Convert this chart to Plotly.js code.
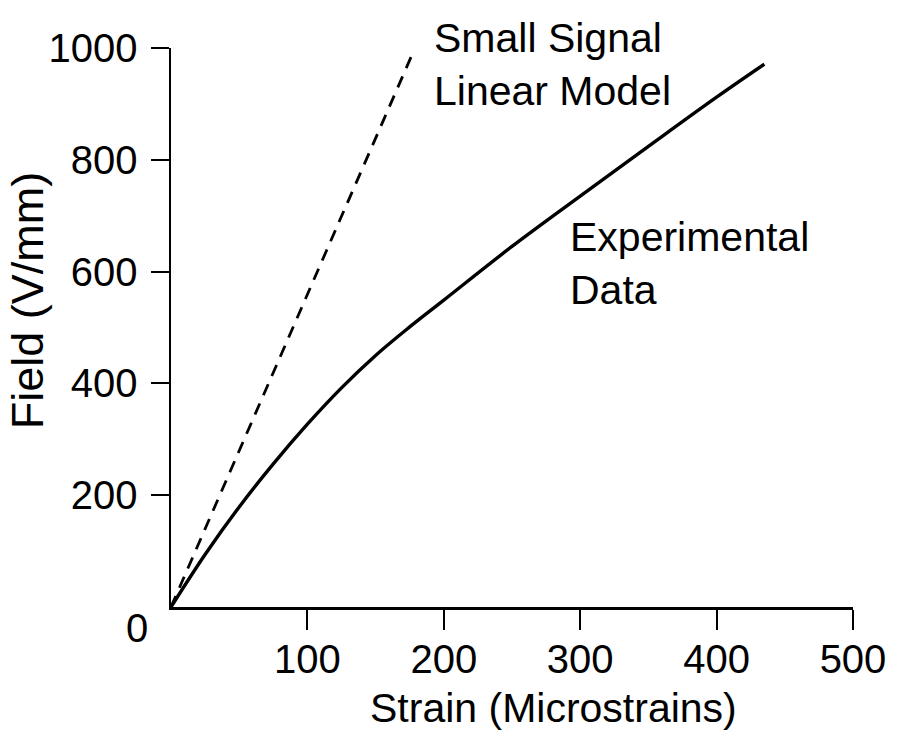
<!DOCTYPE html>
<html>
<head>
<meta charset="utf-8">
<script src="https://cdn.plot.ly/plotly-3.0.1.min.js"></script>
<style>
  html, body { margin: 0; padding: 0; background: #ffffff; }
  #chart { width: 901px; height: 735px; }
</style>
</head>
<body>
<div id="chart"></div>
<script>
// Measured field versus strain
const expStrain = [0, 25, 50, 75, 100, 125, 150, 175, 200, 250, 300, 350, 400, 435];
const expField  = [0, 94, 179, 256, 327, 392, 450, 501, 549, 645, 735, 824, 912, 971];

// Small-signal linear model (straight line through the origin)
const modelStrain = [0, 176];
const modelField  = [0, 984];

// Axis ticks
const xTicks = [100, 200, 300, 400, 500];
const yTicks = [200, 400, 600, 800, 1000];

const FONT = '"Liberation Sans", Arial, Helvetica, sans-serif';

const traces = [
  {
    x: modelStrain, y: modelField,
    type: 'scatter', mode: 'lines',
    line: { color: '#000', width: 2.8, dash: '12px,9px' },
    hoverinfo: 'skip', showlegend: false
  },
  {
    x: expStrain, y: expField,
    type: 'scatter', mode: 'lines',
    line: { color: '#000', width: 3.4, shape: 'spline', smoothing: 1 },
    hoverinfo: 'skip', showlegend: false
  }
];

const layout = {
  width: 901, height: 735,
  margin: { l: 171, r: 48, t: 48, b: 128 },
  paper_bgcolor: '#ffffff', plot_bgcolor: '#ffffff',
  showlegend: false,
  font: { family: FONT, color: '#000', size: 41 },
  xaxis: {
    range: [0, 500], fixedrange: true,
    tickvals: xTicks, ticktext: xTicks.map(String),
    ticks: 'outside', ticklen: 20, tickwidth: 2, tickcolor: '#000',
    ticklabelstandoff: -5,
    showline: true, linewidth: 2.5, linecolor: '#000',
    showgrid: false, zeroline: false,
    tickfont: { family: FONT, size: 40, color: '#000' }
  },
  yaxis: {
    range: [0, 1000], fixedrange: true,
    tickvals: yTicks, ticktext: yTicks.map(String),
    ticks: 'outside', ticklen: 18, tickwidth: 2, tickcolor: '#000',
    ticklabelstandoff: 5,
    showline: true, linewidth: 2.5, linecolor: '#000',
    showgrid: false, zeroline: false,
    tickfont: { family: FONT, size: 40, color: '#000' }
  },
  annotations: [
    {
      text: 'Small Signal<br>Linear Model',
      xref: 'x', yref: 'y', x: 191.5, y: 971,
      xanchor: 'left', yanchor: 'middle', align: 'left',
      showarrow: false, font: { family: FONT, size: 41, color: '#000' }
    },
    {
      text: 'Experimental<br>Data',
      xref: 'x', yref: 'y', x: 291, y: 614,
      xanchor: 'left', yanchor: 'middle', align: 'left',
      showarrow: false, font: { family: FONT, size: 41, color: '#000' }
    },
    {
      text: '0',
      xref: 'paper', yref: 'paper', x: -0.0499, y: -0.0368,
      xanchor: 'center', yanchor: 'middle',
      showarrow: false, font: { family: FONT, size: 40, color: '#000' }
    },
    {
      text: 'Strain (Microstrains)',
      xref: 'paper', yref: 'paper', x: 0.561, y: -0.18,
      xanchor: 'center', yanchor: 'middle',
      showarrow: false, font: { family: FONT, size: 41, color: '#000' }
    },
    {
      text: 'Field (V/mm)',
      xref: 'paper', yref: 'paper', x: -0.2106, y: 0.5495,
      xanchor: 'center', yanchor: 'middle', textangle: -90,
      showarrow: false, font: { family: FONT, size: 45, color: '#000' }
    }
  ]
};

Plotly.newPlot('chart', traces, layout, { staticPlot: true, displayModeBar: false });
</script>
</body>
</html>
